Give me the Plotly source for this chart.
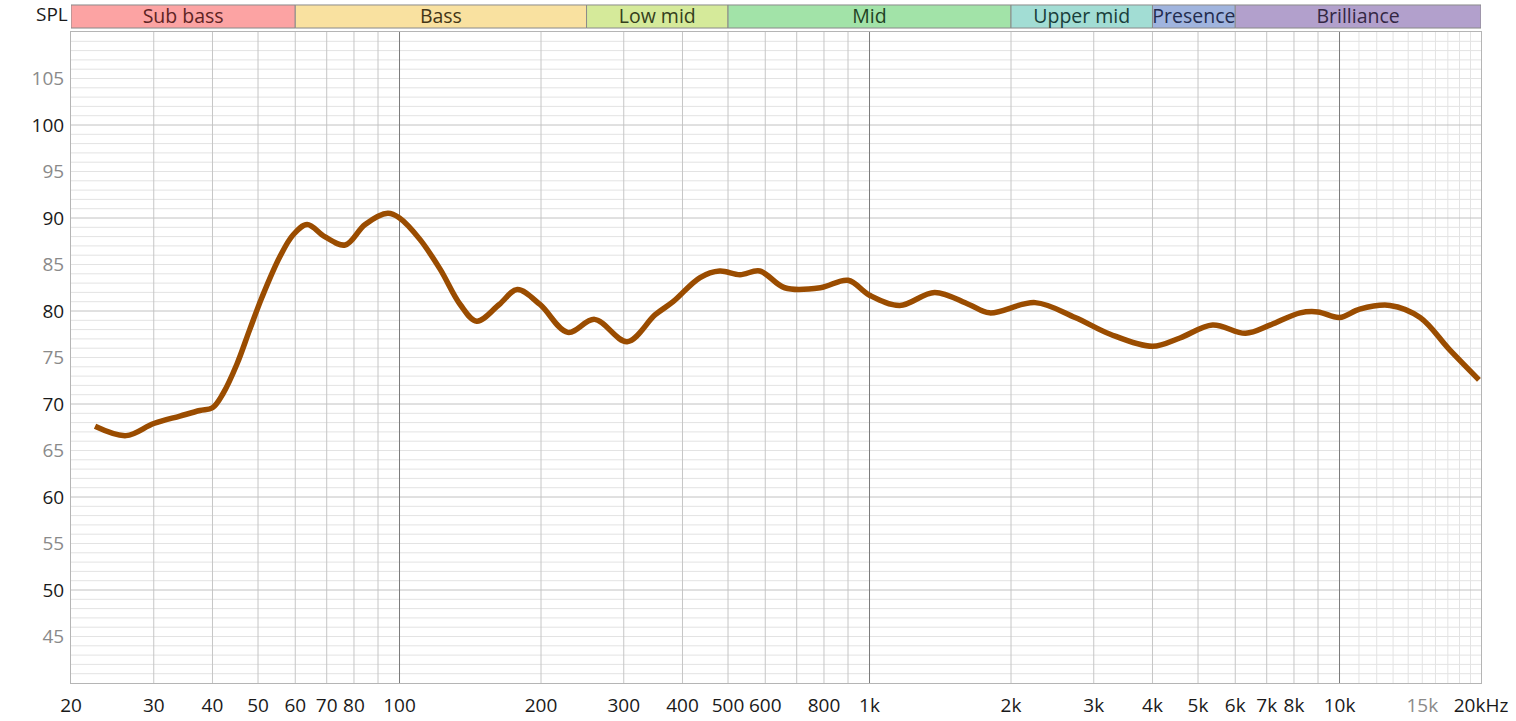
import plotly.graph_objects as go

# Frequency response (Hz, dB SPL)
freq_hz = [22.5, 26.2, 30, 34.1, 37.6, 40, 42.1, 45.1, 48.0, 51.0, 55.6, 59.4, 63.6, 69.3, 76.6, 84.5,
           94.4, 100, 110.5, 122, 134.6, 146, 163, 178, 199, 228, 260, 305, 350, 382, 436, 480, 530,
           584, 660, 786, 900, 1000, 1160, 1376, 1628, 1800, 2251, 2738, 3252, 4000, 4576, 5368,
           6312, 7130, 8246, 9000, 10000, 11040, 12800, 14840, 17100, 19800]
spl_db = [67.6, 66.6, 67.9, 68.7, 69.3, 69.6, 71.1, 74.3, 78.0, 81.5, 85.8, 88.2, 89.3, 88.0, 87.1, 89.3,
          90.5, 90.0, 87.7, 84.5, 80.7, 78.9, 80.7, 82.3, 80.7, 77.7, 79.1, 76.7, 79.6, 81.0, 83.6, 84.3, 83.9,
          84.3, 82.5, 82.5, 83.3, 81.7, 80.6, 82.0, 80.7, 79.8, 80.9, 79.3, 77.5, 76.2, 77.1, 78.5,
          77.6, 78.5, 79.8, 79.9, 79.3, 80.2, 80.6, 79.3, 75.9, 72.6]

# Frequency bands
band_names = ["Sub bass", "Bass", "Low mid", "Mid", "Upper mid", "Presence", "Brilliance"]
band_start = [20, 60, 250, 500, 2000, 4000, 6000]
band_end = [60, 250, 500, 2000, 4000, 6000, 20000]
band_fill = ["#fca3a3", "#f9e1a0", "#d5ea9a", "#a2e3a8", "#a2ddd4", "#a0b4de", "#b2a0cc"]
band_text = ["#5e2424", "#443616", "#34401c", "#1f4224", "#183e3a", "#232c4e", "#342744"]

# Axis ticks
x_tickvals = [20, 30, 40, 50, 60, 70, 80, 100, 200, 300, 400, 500, 600, 800, 1000, 2000, 3000,
              4000, 5000, 6000, 7000, 8000, 10000, 15000, 20000]
x_ticktext = ["20", "30", "40", "50", "60", "70", "80", "100", "200", "300", "400", "500", "600",
              "800", "1k", "2k", "3k", "4k", "5k", "6k", "7k", "8k", "10k",
              "<span style='color:#8a8a8a'>15k</span>", "20kHz"]
y_tickvals = [45, 50, 55, 60, 65, 70, 75, 80, 85, 90, 95, 100, 105]

# Gridlines
x_grid_main = [30, 40, 50, 60, 70, 80, 90, 200, 300, 400, 500, 600, 700, 800, 900,
               2000, 3000, 4000, 5000, 6000, 7000, 8000, 9000]
x_grid_decade = [100, 1000, 10000]
x_grid_fine = [11000, 12000, 13000, 14000, 15000, 16000, 17000, 18000, 19000]
y_grid_minor = [v for v in range(41, 110) if v % 10 != 0]
y_grid_major = [50, 60, 70, 80, 90, 100]

fig = go.Figure()
fig.add_trace(go.Scatter(x=freq_hz, y=spl_db, mode="lines",
                         line=dict(color="#9a4c00", width=5.5, shape="spline", smoothing=1.0),
                         hoverinfo="x+y", showlegend=False))

shapes = []
for v in y_grid_minor:
    shapes.append(dict(type="line", xref="paper", yref="y", x0=0, x1=1, y0=v, y1=v,
                       line=dict(color="#e3e3e3", width=1), layer="below"))
for v in x_grid_fine:
    shapes.append(dict(type="line", xref="x", yref="paper", x0=v, x1=v, y0=0, y1=1,
                       line=dict(color="#e3e3e3", width=1), layer="below"))
for v in x_grid_main:
    shapes.append(dict(type="line", xref="x", yref="paper", x0=v, x1=v, y0=0, y1=1,
                       line=dict(color="#c6c6c6", width=1), layer="below"))
for v in y_grid_major:
    shapes.append(dict(type="line", xref="paper", yref="y", x0=0, x1=1, y0=v, y1=v,
                       line=dict(color="#c2c2c2", width=1), layer="below"))
for v in x_grid_decade:
    shapes.append(dict(type="line", xref="x", yref="paper", x0=v, x1=v, y0=0, y1=1,
                       line=dict(color="#7a7a7a", width=1), layer="below"))

for name, a, b, fc, tc in zip(band_names, band_start, band_end, band_fill, band_text):
    shapes.append(dict(type="rect", xref="x", yref="paper", x0=a, x1=b, y0=1.0061, y1=1.0415,
                       fillcolor=fc, line=dict(color="#8a8a8a", width=1), layer="above",
                       label=dict(text=name, textposition="middle center",
                                  font=dict(family="Open Sans", size=19.5, color=tc))))

y_ticktext = []
for v in y_tickvals:
    col = "#1a1a1a" if v % 10 == 0 else "#8a8a8a"
    y_ticktext.append(f"<span style='color:{col}'>{v}</span>")

fig.update_layout(
    width=1516, height=721,
    margin=dict(l=71, r=35, t=32, b=38),
    paper_bgcolor="white", plot_bgcolor="white",
    font=dict(family="Open Sans", size=19, color="#1a1a1a"),
    shapes=shapes,
    annotations=[dict(text="SPL", xref="paper", yref="paper", x=-0.001, y=1.028,
                      xanchor="right", yanchor="middle", showarrow=False,
                      font=dict(family="Open Sans", size=19, color="#1a1a1a"))],
    xaxis=dict(type="log", range=[1.30103, 4.30103], tickmode="array",
               tickvals=x_tickvals, ticktext=x_ticktext, showgrid=False, zeroline=False,
               showline=True, mirror=True, linecolor="#b5b5b5", linewidth=1,
               ticks="", ticklabelstandoff=5, automargin=False,
               tickfont=dict(size=19, color="#1a1a1a")),
    yaxis=dict(range=[40, 110], tickmode="array", tickvals=y_tickvals, ticktext=y_ticktext,
               showgrid=False, zeroline=False, showline=True, mirror=True,
               linecolor="#b5b5b5", linewidth=1, ticks="", ticklabelstandoff=2,
               automargin=False, tickfont=dict(size=19)),
)

fig.write_html("out.html", config={"displayModeBar": False},
               post_script="document.body.style.margin='0';")
